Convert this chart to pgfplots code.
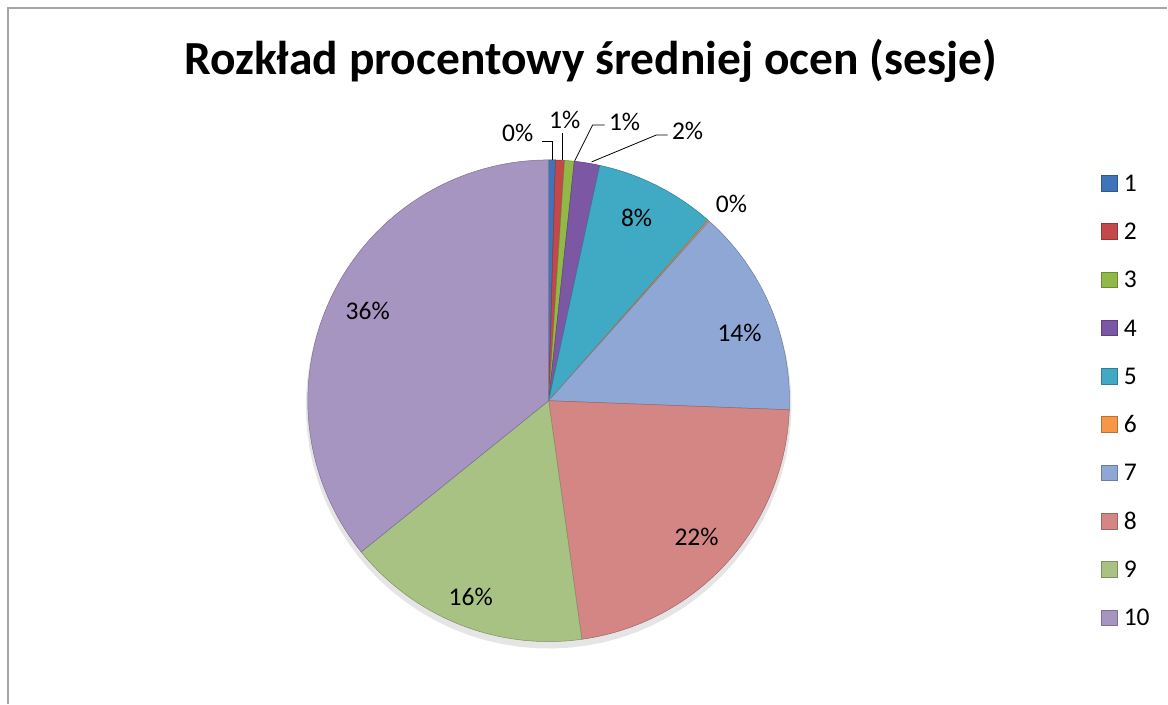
\documentclass[border=0pt]{standalone}
\usepackage{fontspec}
\setmainfont{Carlito}
\usepackage{pgfplots}
\pgfplotsset{compat=1.18}
\definecolor{c1}{HTML}{3F74B9}
\definecolor{c2}{HTML}{C4474A}
\definecolor{c3}{HTML}{92B847}
\definecolor{c4}{HTML}{7C58A4}
\definecolor{c5}{HTML}{40A9C3}
\definecolor{c6}{HTML}{F79646}
\definecolor{c7}{HTML}{8EA7D5}
\definecolor{c8}{HTML}{D48684}
\definecolor{c9}{HTML}{A8C283}
\definecolor{c10}{HTML}{A695C1}
% slice: colour, cumulative start %, cumulative end %
\newcommand{\slice}[3]{%
  \addplot[fill=#1, draw=#1!75!black, line width=0.5bp,
    domain=90-3.6*#2:90-3.6*#3, samples=60, variable=\t]
    ({549+241*cos(\t)},{303+241*sin(\t)}) -- (axis cs:549,303) -- cycle;}
\newcommand{\lab}{\fontsize{25.5bp}{30bp}\selectfont}
\begin{document}
\begin{tikzpicture}
\begin{axis}[
  width=1168bp, height=704bp, scale only axis,
  xmin=0, xmax=1168, ymin=0, ymax=704,
  hide axis, clip=false,
  legend image code/.code={\fill[#1] (0bp,-7.75bp) rectangle (16bp,7.75bp);
     \draw[#1] (0bp,-7.75bp) rectangle (16bp,7.75bp);},
  legend cell align=left,
  legend style={at={(axis cs:1102,529)}, anchor=north west, draw=none, fill=none,
    inner sep=0pt, outer sep=0pt, row sep=31.8bp, column sep=6bp,
    font=\lab,
    nodes={inner sep=0pt, outer sep=0pt, text height=16.5bp, text depth=0bp}},
  legend entries={1,2,3,4,5,6,7,8,9,10},
]
% soft shadow under the pie
\addplot[forget plot, draw=none, fill=black, fill opacity=0.10, domain=0:360, samples=90, variable=\t]
  ({549+243*cos(\t)},{298+243*sin(\t)}) -- cycle;
% percentages of each grade 1..10: 0.45, 0.6, 0.65, 1.7, 8.1, 0.1, 14.0, 22.2, 16.4, 35.8
\slice{c1}{0}{0.45}
\slice{c2}{0.45}{1.05}
\slice{c3}{1.05}{1.70}
\slice{c4}{1.70}{3.40}
\slice{c5}{3.40}{11.50}
\slice{c6}{11.50}{11.60}
\slice{c7}{11.60}{25.60}
\slice{c8}{25.60}{47.80}
\slice{c9}{47.80}{64.20}
\slice{c10}{64.20}{100}
% leader lines
\addplot[forget plot, black, line width=0.8bp] coordinates {(542,562) (553,562) (553,544)};
\addplot[forget plot, black, line width=0.8bp] coordinates {(563,571) (563,544)};
\addplot[forget plot, black, line width=0.8bp] coordinates {(605,579) (593,579) (575,543)};
\addplot[forget plot, black, line width=0.8bp] coordinates {(668,569) (657,569) (592,542)};
% border
\addplot[forget plot, gray!70, line width=1.5bp] coordinates {(8,0) (8,696) (1168,696)};
\path (axis cs:0,0) rectangle (axis cs:1168,704);
% labels
\node[font=\lab] at (axis cs:518,571) {0\%};
\node[font=\lab] at (axis cs:565,584) {1\%};
\node[font=\lab] at (axis cs:625,582) {1\%};
\node[font=\lab] at (axis cs:688,573) {2\%};
\node[font=\lab] at (axis cs:637,486) {8\%};
\node[font=\lab] at (axis cs:732,500) {0\%};
\node[font=\lab] at (axis cs:740,371) {14\%};
\node[font=\lab] at (axis cs:697,167) {22\%};
\node[font=\lab] at (axis cs:471,107) {16\%};
\node[font=\lab] at (axis cs:368,393) {36\%};
\node[anchor=base, font=\bfseries\fontsize{47.5bp}{54bp}\selectfont] at (axis cs:591,629)
  {Rozkład procentowy średniej ocen (sesje)};
\end{axis}
\end{tikzpicture}
\end{document}
